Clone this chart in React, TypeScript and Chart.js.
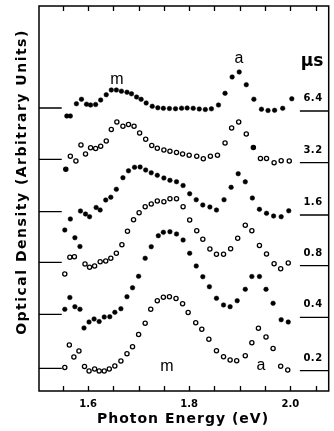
import React, { useEffect, useRef } from "react";
import { Chart, registerables } from "chart.js";
Chart.register(...registerables);

// ---- axis ----
const X_MIN = 1.503;
const X_MAX = 2.076;
const Y_MIN = 0;
const Y_MAX = 38.5;
const MAJOR_TICKS = [1.6, 1.8, 2.0];
const MINOR_TICKS = [1.55, 1.6, 1.65, 1.7, 1.75, 1.8, 1.85, 1.9, 1.95, 2.0, 2.05];

// ---- series (photon energy eV, optical density arb. units, offset curves) ----
const DELAYS = ["6.4", "3.2", "1.6", "0.8", "0.4", "0.2"];

const E_64 = [1.558,1.565,1.577,1.587,1.597,1.605,1.615,1.625,1.636,1.646,1.656,1.666,1.677,1.686,1.696,1.705,1.715,1.727,1.738,1.749,1.761,1.773,1.785,1.796,1.808,1.820,1.832,1.844,1.858,1.871,1.885,1.899,1.913,1.928,1.943,1.956,1.969,1.985,2.003];
const OD_64 = [27.5,27.5,28.73,29.17,28.68,28.6,28.65,29.1,29.63,30.1,30.1,29.98,29.88,29.72,29.4,29.17,28.8,28.47,28.32,28.27,28.25,28.23,28.28,28.3,28.27,28.2,28.15,28.22,28.6,29.77,31.4,31.9,30.63,29.18,28.18,28.05,28.07,28.27,29.22];

const E_32 = [1.556,1.565,1.576,1.586,1.595,1.605,1.615,1.625,1.636,1.646,1.657,1.669,1.680,1.691,1.702,1.714,1.726,1.737,1.750,1.762,1.775,1.787,1.800,1.815,1.828,1.842,1.856,1.871,1.884,1.898,1.913,1.927,1.941,1.953,1.968,1.982,1.998];
const OD_32 = [22.17,23.47,23.0,24.6,23.7,24.33,24.25,24.47,25.0,26.15,26.9,26.47,26.65,26.47,25.8,25.18,24.55,24.27,24.1,23.98,23.85,23.7,23.57,23.47,23.23,23.47,23.57,24.8,26.3,26.9,25.7,24.35,23.25,23.25,22.83,23.03,23.0];

const E_16 = [1.554,1.565,1.574,1.584,1.585,1.595,1.603,1.616,1.624,1.635,1.645,1.656,1.669,1.680,1.692,1.703,1.714,1.725,1.737,1.750,1.762,1.775,1.788,1.801,1.814,1.827,1.841,1.854,1.869,1.883,1.897,1.911,1.925,1.939,1.953,1.967,1.982,1.997];
const OD_16 = [16.1,17.2,15.33,14.45,18.0,17.7,17.43,18.35,18.1,19.1,19.38,20.17,21.33,22.02,22.37,22.4,22.1,21.82,21.57,21.3,21.07,20.93,20.55,19.73,19.13,18.6,18.4,18.1,19.13,20.37,21.73,20.92,19.3,18.17,17.77,17.5,17.43,18.02];

const E_08 = [1.554,1.564,1.573,1.594,1.603,1.613,1.624,1.635,1.645,1.656,1.667,1.678,1.690,1.701,1.713,1.725,1.737,1.750,1.762,1.775,1.788,1.801,1.815,1.827,1.841,1.854,1.868,1.882,1.896,1.911,1.924,1.939,1.953,1.968,1.981,1.996];
const OD_08 = [11.7,13.37,13.43,12.7,12.37,12.5,12.93,13.0,13.27,13.77,14.63,15.97,17.13,17.83,18.43,18.7,19.0,18.93,19.23,19.22,18.43,17.1,16.02,15.17,14.2,13.67,13.67,14.23,15.28,16.57,16.03,14.55,13.7,12.73,12.22,12.8];

const E_04 = [1.554,1.564,1.574,1.584,1.592,1.602,1.612,1.622,1.632,1.643,1.653,1.665,1.677,1.688,1.700,1.713,1.725,1.739,1.749,1.762,1.775,1.788,1.801,1.814,1.827,1.840,1.854,1.868,1.881,1.895,1.911,1.924,1.939,1.952,1.966,1.982,1.996];
const OD_04 = [8.17,9.35,8.43,8.18,6.3,6.9,7.2,6.95,7.4,7.43,7.87,8.23,9.43,10.33,11.47,13.27,14.43,15.53,15.87,15.93,15.7,15.1,13.77,12.5,11.43,10.43,9.27,8.6,8.43,9.03,10.17,11.45,11.45,10.17,8.77,7.13,6.9];

const E_02 = [1.554,1.563,1.572,1.582,1.593,1.602,1.613,1.622,1.632,1.642,1.653,1.665,1.677,1.688,1.700,1.713,1.724,1.737,1.749,1.761,1.774,1.787,1.798,1.813,1.825,1.839,1.854,1.868,1.881,1.894,1.911,1.924,1.937,1.952,1.966,1.981,1.995];
const OD_02 = [2.35,4.6,3.4,4.0,2.45,2.0,2.2,2.0,2.0,2.2,2.5,3.0,3.73,4.43,5.65,6.78,8.18,9.02,9.37,9.43,9.25,8.73,7.85,6.83,6.17,5.17,4.03,3.43,3.1,3.03,3.53,4.83,6.27,5.4,4.25,2.47,2.1];

// zero lines of each offset curve (left and right stubs)
const BASE_LEFT = [28.3, 23.17, 17.93, 12.87, 7.67, 2.27];
const BASE_RIGHT = [28.0, 22.83, 17.6, 12.53, 7.37, 2.03];
const BASE_LEFT_E = [1.503, 1.548];
const BASE_RIGHT_E = [2.019, 2.076];

const SERIES_E = [E_64, E_32, E_16, E_08, E_04, E_02];
const SERIES_OD = [OD_64, OD_32, OD_16, OD_08, OD_04, OD_02];
const SERIES_OPEN = [false, true, false, true, false, true];
const FILLED_IN_32 = [0, 31];

const decorPlugin = {
  id: "decor",
  afterDraw(chart: any) {
    const { ctx, chartArea: a, scales } = chart;
    const x = scales.x;
    const y = scales.y;
    ctx.save();
    ctx.strokeStyle = "#000";
    ctx.fillStyle = "#000";
    ctx.lineWidth = 1.5;
    ctx.strokeRect(a.left, a.top, a.right - a.left, a.bottom - a.top);
    ctx.lineWidth = 1.3;
    ctx.beginPath();
    for (const v of MINOR_TICKS) {
      const px = Math.round(x.getPixelForValue(v)) + 0.5;
      ctx.moveTo(px, a.bottom);
      ctx.lineTo(px, a.bottom - 5);
      ctx.moveTo(px, a.top);
      ctx.lineTo(px, a.top + 5);
    }
    ctx.stroke();

    // delay labels
    ctx.font = 'bold 10px "DejaVu Sans"';
    (ctx as any).letterSpacing = "0.5px";
    ctx.textAlign = "center";
    ctx.textBaseline = "middle";
    DELAYS.forEach((d, i) => {
      ctx.fillText(d, 313, y.getPixelForValue(BASE_RIGHT[i]) - 12.5);
    });
    (ctx as any).letterSpacing = "0px";
    ctx.font = 'bold 17px "DejaVu Sans"';
    ctx.textBaseline = "alphabetic";
    ctx.fillText("μs", 312, 66);

    // peak labels
    ctx.font = '16px "Liberation Sans"';
    ctx.fillText("m", 117, 84);
    ctx.fillText("a", 239, 63);
    ctx.fillText("m", 167, 371);
    ctx.fillText("a", 261, 370);

    // axis titles
    ctx.font = 'bold 14px "DejaVu Sans"';
    (ctx as any).letterSpacing = "1px";
    ctx.fillText("Photon Energy (eV)", 183, 423);
    ctx.translate(26, 182);
    ctx.rotate(-Math.PI / 2);
    (ctx as any).letterSpacing = "1.5px";
    ctx.fillText("Optical Density (Arbitrary Units)", 0, 0);
    ctx.restore();
  },
};

export default function App() {
  const ref = useRef<HTMLCanvasElement | null>(null);
  useEffect(() => {
    if (!ref.current) return;
    const datasets: any[] = [];
    SERIES_E.forEach((es, i) => {
      const open = SERIES_OPEN[i];
      datasets.push({
        label: DELAYS[i] + " μs",
        data: es.map((e, k) => ({ x: e, y: SERIES_OD[i][k] })),
        showLine: false,
        pointRadius: open ? 2.1 : 2.3,
        pointBorderWidth: open ? 1.3 : 0.5,
        pointBorderColor: "#000",
        pointBackgroundColor: open
          ? (c: any) => (i === 1 && FILLED_IN_32.includes(c.dataIndex) ? "#000" : "#fff")
          : "#000",
      });
    });
    BASE_LEFT.forEach((v, i) => {
      datasets.push({
        label: "base L " + DELAYS[i],
        data: BASE_LEFT_E.map((e) => ({ x: e, y: v })),
        showLine: true,
        borderColor: "#000",
        borderWidth: 1.3,
        pointRadius: 0,
      });
      datasets.push({
        label: "base R " + DELAYS[i],
        data: BASE_RIGHT_E.map((e) => ({ x: e, y: BASE_RIGHT[i] })),
        showLine: true,
        borderColor: "#000",
        borderWidth: 1.3,
        pointRadius: 0,
      });
    });
    const chart = new Chart(ref.current, {
      type: "scatter",
      data: { datasets },
      options: {
        animation: false,
        responsive: false,
        devicePixelRatio: 1,
        layout: { padding: { left: 39, top: 6, right: 3, bottom: 0 } },
        plugins: { legend: { display: false }, tooltip: { enabled: false } },
        scales: {
          x: {
            type: "linear",
            min: X_MIN,
            max: X_MAX,
            grid: { display: false, drawTicks: false },
            border: { display: false },
            afterBuildTicks: (s: any) => {
              s.ticks = MAJOR_TICKS.map((v) => ({ value: v }));
            },
            afterFit: (s: any) => {
              s.height = 40;
            },
            ticks: {
              color: "#000",
              padding: 7,
              maxRotation: 0,
              autoSkip: false,
              font: { family: "DejaVu Sans", size: 10, weight: "bold" },
              callback: (v: any) => Number(v).toFixed(1),
            },
          },
          y: { display: false, min: Y_MIN, max: Y_MAX },
        },
      },
      plugins: [decorPlugin],
    } as any);
    return () => chart.destroy();
  }, []);
  return (
    <div style={{ position: "absolute", left: 0, top: 0, width: 334, height: 431, background: "#fff" }}>
      <canvas ref={ref} width={334} height={431} style={{ display: "block" }} />
    </div>
  );
}
